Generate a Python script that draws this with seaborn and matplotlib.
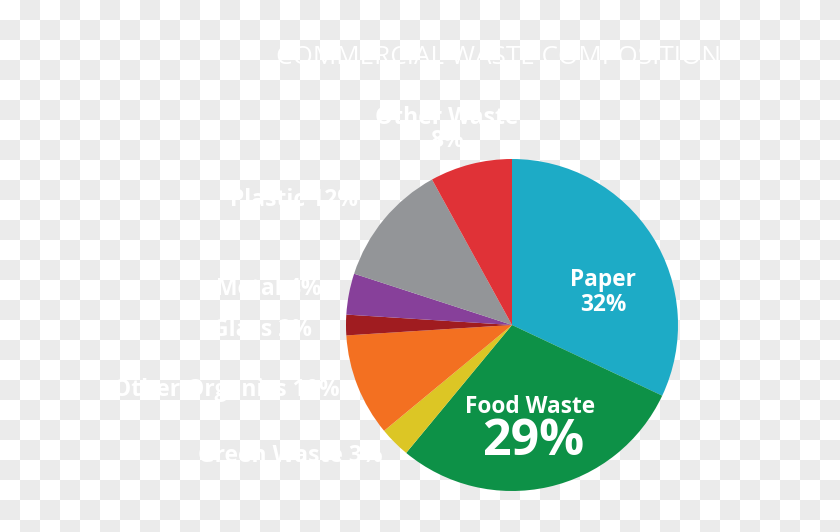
import matplotlib
matplotlib.use("Agg")
import matplotlib.pyplot as plt
from matplotlib.colors import ListedColormap
import seaborn as sns
import numpy as np

# waste categories, clockwise from 12 o'clock
categories = ["Paper", "Food Waste", "Green Waste", "Other Organics",
              "Glass", "Metal", "Plastic", "Other Waste"]
shares = [32, 29, 3, 10, 2, 4, 12, 8]
colors = ["#1dabc6", "#0d9147", "#dcc625", "#f37021",
          "#a01c20", "#87409a", "#939598", "#e03237"]
title = "COMMERCIAL WASTE COMPOSITION"

sns.set_theme(style="white")
plt.rcParams['font.family'] = ['Open Sans', 'DejaVu Sans']

W, H = 840, 532
fig = plt.figure(figsize=(W / 100, H / 100), dpi=100)

# transparent-style checkerboard background
bg = fig.add_axes([0, 0, 1, 1])
yy, xx = np.indices((H, W))
board = (yy // 20 + xx // 20) % 2
bg.imshow(board, cmap=ListedColormap(["#ffffff", "#ebebeb"]),
          extent=(0, W, H, 0), interpolation="nearest", aspect="auto")
bg.set_axis_off()

# pie: centre (512, 325) px, radius 166 px
cx, cy, r = 512, 325, 166
ax = fig.add_axes([(cx - r) / W, (H - cy - r) / H, 2 * r / W, 2 * r / H])
ax.pie(shares, colors=colors, startangle=90, counterclock=False,
       radius=1, wedgeprops=dict(linewidth=0))
ax.set_xlim(-1, 1)
ax.set_ylim(-1, 1)
ax.set_axis_off()


def txt(x, y, s, **kw):
    fig.text(x / W, 1 - (y + 2) / H, s, color="white", va="center", **kw)


txt(498, 56, title, ha="center", fontsize=18.8, fontweight="normal")

lab = {c: f"{c} {v}%" for c, v in zip(categories, shares)}
fs = 16.5
txt(447, 116, categories[7], ha="center", fontsize=fs, fontweight="bold")
txt(447, 139, f"{shares[7]}%", ha="center", fontsize=fs, fontweight="bold")
txt(358, 198, lab["Plastic"], ha="right", fontsize=fs, fontweight="bold")
txt(322, 287, lab["Metal"], ha="right", fontsize=fs, fontweight="bold")
txt(312, 328, lab["Glass"], ha="right", fontsize=fs, fontweight="bold")
txt(340, 388, lab["Other Organics"], ha="right", fontsize=fs, fontweight="bold")
txt(383, 454, lab["Green Waste"], ha="right", fontsize=fs, fontweight="bold")

txt(603, 278, categories[0], ha="center", fontsize=16.3, fontweight="bold")
txt(603, 303, f"{shares[0]}%", ha="center", fontsize=16.3, fontweight="bold")
txt(530, 405, categories[1], ha="center", fontsize=16.3, fontweight="bold")
txt(533, 440, f"{shares[1]}%", ha="center", fontsize=36, fontweight="bold")

fig.savefig("out.png", dpi=100)
